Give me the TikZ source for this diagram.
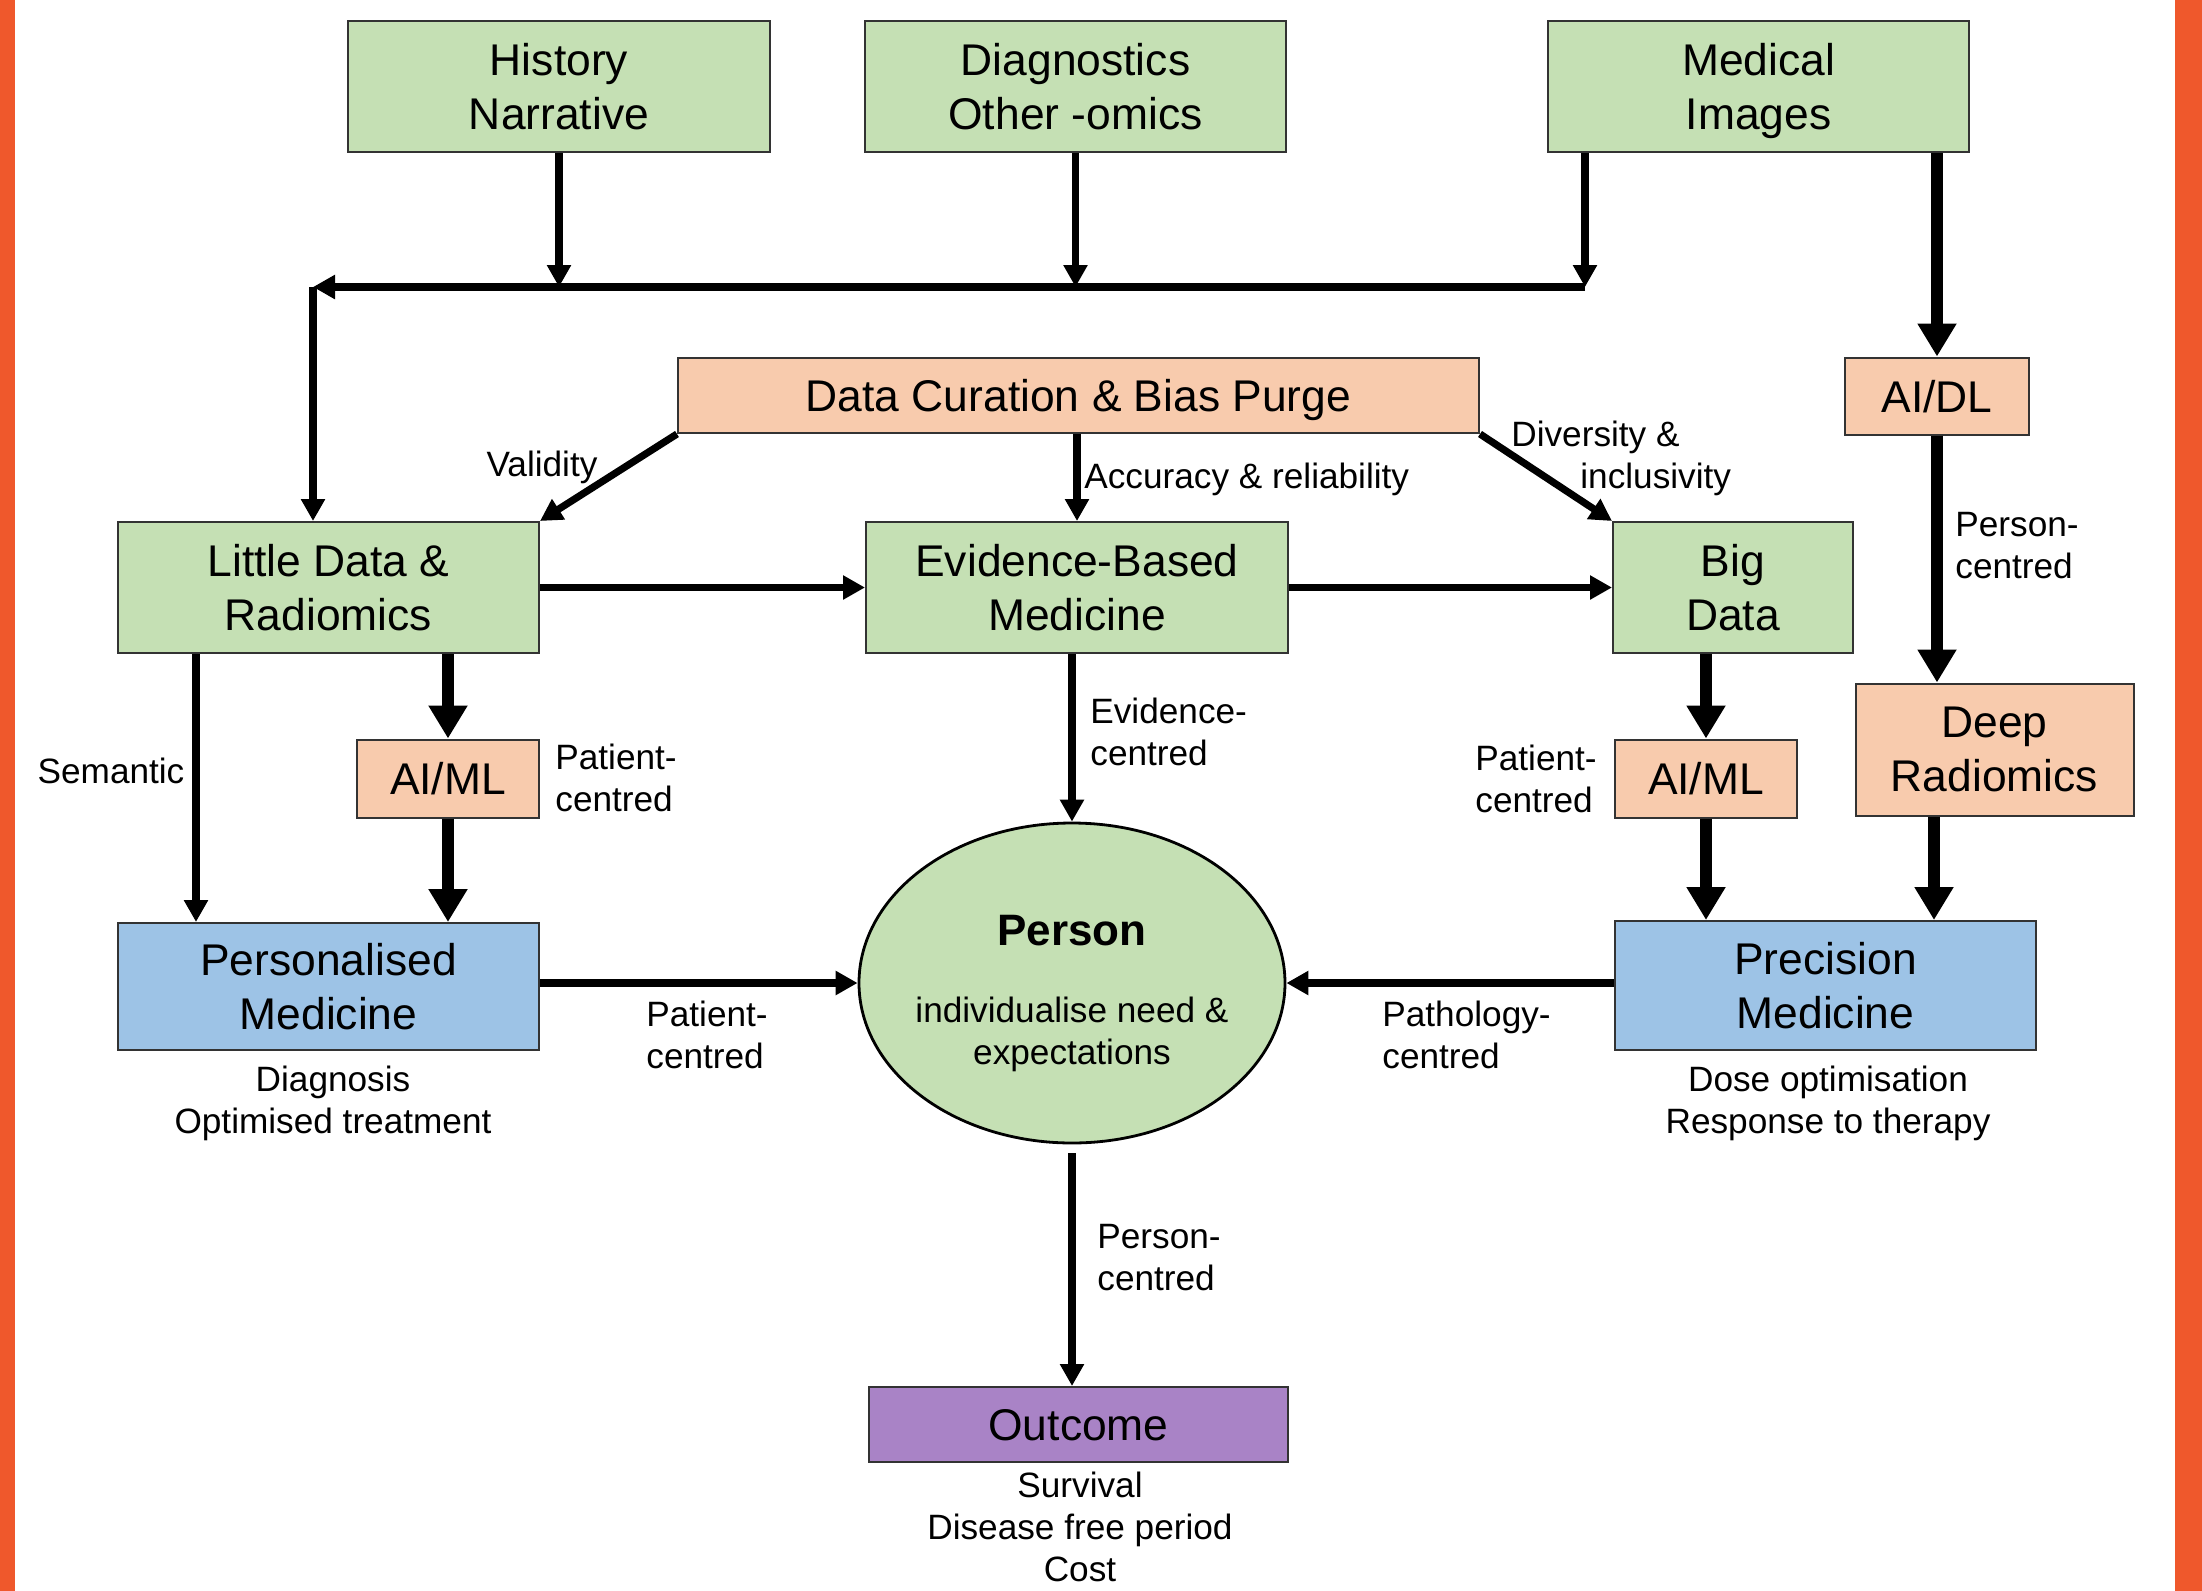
\documentclass[tikz,border=0pt]{standalone}
\usepackage{fontspec}
\setmainfont{Liberation Sans}
\usetikzlibrary{arrows.meta,shapes.geometric}

\definecolor{boxgreen}{HTML}{C5E0B4}
\definecolor{boxpeach}{HTML}{F8CBAD}
\definecolor{boxblue}{HTML}{9DC3E6}
\definecolor{boxpurple}{HTML}{A983C6}
\definecolor{framebar}{HTML}{EF582C}
\definecolor{edgegray}{HTML}{333333}

\begin{document}
\begin{tikzpicture}[x=0.5pt,y=-0.5pt,
  box/.style={draw=edgegray, line width=1pt, rectangle, inner sep=0pt, align=center,
    text depth=0pt, font=\fontsize{22.2}{26.8}\selectfont},
  gbox/.style={box, fill=boxgreen},
  pbox/.style={box, fill=boxpeach},
  bbox/.style={box, fill=boxblue},
  vbox/.style={box, fill=boxpurple},
  lbl/.style={inner sep=0pt, font=\fontsize{17.6}{21}\selectfont},
  thinarrow/.style={line width=3.6pt, -{Triangle[length=11pt,width=11.5pt]}},
  thickarrow/.style={line width=6.4pt, -{Triangle[length=16.5pt,width=18.5pt]}},
]
\useasboundingbox (0,0) rectangle (2202,1591);

% side bars
\fill[framebar] (0,0) rectangle (15,1591);
\fill[framebar] (2175,0) rectangle (2202,1591);

% top row of inputs
\node[gbox, minimum width=211pt, minimum height=65.5pt] (hist) at (559,86.5) {History\\Narrative};
\node[gbox, minimum width=210.5pt, minimum height=65.5pt] (diag) at (1075.5,86.5) {Diagnostics\\Other -omics};
\node[gbox, minimum width=210.5pt, minimum height=65.5pt] (medimg) at (1758.5,86.5) {Medical\\Images};

% curation and deep-learning row
\node[pbox, minimum width=400.5pt, minimum height=37.5pt] (dc) at (1078.5,395.5) {Data Curation \& Bias Purge};
\node[pbox, minimum width=92pt, minimum height=38.5pt] (aidl) at (1937,396) {AI/DL};

% data row
\node[gbox, minimum width=210.5pt, minimum height=65.5pt] (ld) at (328.5,587.5) {Little Data \&\\Radiomics};
\node[gbox, minimum width=211pt, minimum height=65.5pt] (ebm) at (1077,587.5) {Evidence-Based\\Medicine};
\node[gbox, minimum width=120pt, minimum height=65.5pt] (big) at (1733,587.5) {Big\\Data};

% machine learning row
\node[pbox, minimum width=91pt, minimum height=39pt] (aiml1) at (448,778.5) {AI/ML};
\node[pbox, minimum width=91pt, minimum height=39pt] (aiml2) at (1706,778.5) {AI/ML};
\node[pbox, minimum width=139pt, minimum height=66pt] (deep) at (1994.5,749.5) {Deep\\Radiomics};

% medicine row
\node[bbox, minimum width=210.5pt, minimum height=63.5pt] (pers) at (328.5,986.5) {Personalised\\Medicine};
\node[bbox, minimum width=210.5pt, minimum height=64.5pt] (prec) at (1825.5,985.5) {Precision\\Medicine};
\node[ellipse, draw=black, line width=1.4pt, fill=boxgreen, inner sep=0pt,
      minimum width=213pt, minimum height=160pt] (person) at (1072,983) {};
\node[lbl, align=center] (persontext) at (1072,994)
  {{\fontsize{22}{21}\selectfont\bfseries Person}\\[17.5pt]individualise need \&\\expectations};

% outcome
\node[vbox, minimum width=209.5pt, minimum height=37.5pt] (outcome) at (1078.5,1424.5) {Outcome};

% collecting bus
\coordinate (busR) at (1585,287);
\coordinate (busL) at (313,287);
\draw[thinarrow] (hist.south) -- (hist.south |- busL);
\draw[thinarrow] (diag.south) -- (diag.south |- busL);
\draw[thinarrow] (medimg.south -| busR) -- (busR);
\draw[thinarrow] (busR) -- (busL);
\draw[thinarrow] (busL) -- (busL |- ld.north);

% curation arrows
\draw[thinarrow] (dc.south west) -- (ld.north east);
\draw[thinarrow] (ebm.north |- dc.south) -- (ebm.north);
\draw[thinarrow] (dc.south east) -- (big.north west);

% data row links
\draw[thinarrow] (ld.east) -- (ebm.west);
\draw[thinarrow] (ebm.east) -- (big.west);

% left column
\draw[thinarrow] ([xshift=39.5pt]ld.south west) -- ([xshift=39.5pt]pers.north west);
\draw[thickarrow] (aiml1.north |- ld.south) -- (aiml1.north);
\draw[thickarrow] (aiml1.south) -- (aiml1.south |- pers.north);

% centre column
\draw[thinarrow] (person.north |- ebm.south) -- (person.north);
\draw[thinarrow] (pers.east |- person.west) -- (person.west);
\draw[thinarrow] (prec.west |- person.east) -- (person.east);
\draw[thinarrow] ([yshift=-4.5pt]person.south) -- (person.south |- outcome.north);

% right columns
\draw[thickarrow] (aiml2.north |- big.south) -- (aiml2.north);
\draw[thickarrow] (aiml2.south) -- (aiml2.south |- prec.north);
\draw[thickarrow] (aidl.north |- medimg.south) -- (aidl.north);
\draw[thickarrow] (aidl.south) -- (aidl.south |- deep.north);
\draw[thickarrow] ([xshift=-1.5pt]aidl.south |- deep.south) -- ([xshift=-1.5pt]aidl.south |- prec.north);

% connector labels
\node[lbl] (validity) at (542,467) {Validity};
\node[lbl, anchor=west] (accuracy) at (1084,479) {Accuracy \& reliability};
\node[lbl, anchor=west, align=left] (diversity) at (1511,458) {Diversity \&\\\hspace*{34.5pt}inclusivity};
\node[lbl] (semantic) at (111,771) {Semantic};
\node[lbl, anchor=west, align=left] (patientA) at (555,778) {Patient-\\centred};
\node[lbl, anchor=west, align=left] (evidence) at (1090,732) {Evidence-\\centred};
\node[lbl, anchor=west, align=left] (patientB) at (646,1035) {Patient-\\centred};
\node[lbl, anchor=west, align=left] (pathology) at (1382,1035) {Pathology-\\centred};
\node[lbl, anchor=west, align=left] (patientC) at (1475,779) {Patient-\\centred};
\node[lbl, anchor=west, align=left] (personA) at (1955,546) {Person-\\centred};
\node[lbl, anchor=west, align=left] (personB) at (1097,1258) {Person-\\centred};

% notes under boxes
\node[lbl, align=center] (persnote) at (333,1103.5) {Diagnosis\\Optimised treatment};
\node[lbl, align=center] (precnote) at (1828,1103) {Dose optimisation\\Response to therapy};
\node[lbl, align=center] (outnote) at (1080,1527) {Survival\\Disease free period\\Cost};
\end{tikzpicture}
\end{document}
